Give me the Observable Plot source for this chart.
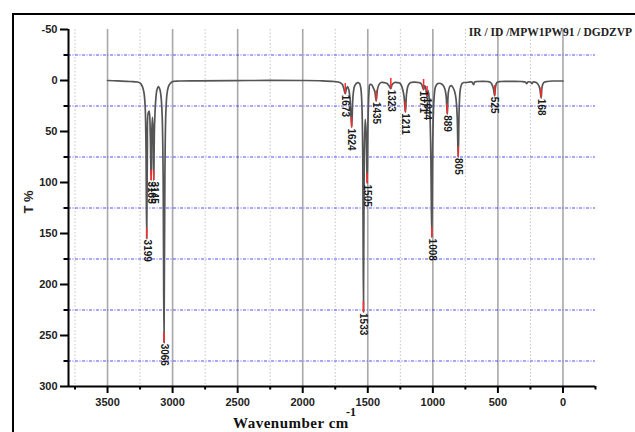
<!DOCTYPE html>
<html><head><meta charset="utf-8">
<script src="https://cdn.jsdelivr.net/npm/d3@7"></script>
<script src="https://cdn.jsdelivr.net/npm/@observablehq/plot@0.6"></script>
<style>
html,body{margin:0;padding:0;overflow:hidden;background:#fff;width:635px;height:432px}
#wrap{position:relative;width:635px;height:432px;overflow:hidden;background:#fff}
#wrap svg{position:absolute;left:0;top:0}
#frame{position:absolute;left:12px;top:13px;width:700px;height:500px;border:2px solid #000;box-sizing:border-box}
</style></head>
<body><div id="wrap"><div id="frame"></div></div>
<script>
// axis ticks
const xMajor = [3500, 3000, 2500, 2000, 1500, 1000, 500, 0];
const xMinor = [3750, 3250, 2750, 2250, 1750, 1250, 750, 250, -250];
const yMajor = [-50, 0, 50, 100, 150, 200, 250, 300];
const yMinor = [-25, 25, 75, 125, 175, 225, 275];

// labelled peaks
const peakWn = [3199, 3165, 3145, 3066, 1673, 1624, 1533, 1505, 1435, 1323, 1211, 1071, 1044, 1008, 889, 805, 525, 168];
const peakT  = [155, 98, 98, 257, 13, 46, 227, 101, 20, 8, 31, 9, 16, 154, 33, 75, 15, 17];

// spectrum (wavenumber, T %)
const specWn = [3500,3420,3330,3270,3245,3232,3220,3211,3205,3199,3194,3188,3180,3172,3165,3160,3155,3150,3145,3139,3130,3120,3108,3097,3088,3080,3073,3066,3059,3052,3043,3032,3018,3000,2950,2800,2400,2000,1850,1760,1715,1695,1684,1673,1664,1655,1646,1636,1624,1614,1603,1590,1575,1563,1553,1545,1539,1533,1527,1520,1513,1505,1498,1491,1484,1472,1458,1446,1435,1426,1414,1398,1375,1352,1338,1323,1313,1295,1272,1250,1236,1222,1211,1202,1190,1170,1140,1110,1090,1080,1071,1062,1054,1044,1035,1026,1017,1008,1000,991,979,962,940,920,906,898,889,881,870,858,845,832,822,813,805,797,788,776,762,745,720,700,692,686,680,660,620,580,555,542,533,525,518,508,480,430,380,320,290,278,270,250,238,230,205,190,178,168,160,148,120,80,40,0];
const specT  = [0,0.3,1,1.5,3,6,12,25,60,155,70,32,30,50,98,50,36,50,98,45,20,9,6,9,17,35,90,257,90,32,13,6,3,1,0.5,0.3,0,0,0.3,1,2,4,8,13,8,6,9,18,46,16,6,3,2,3,8,25,70,227,75,38,50,101,38,12,4,4,7,11,20,9,4,2,2,3,5,8,4,2,2,3,7,15,31,13,5,2,1.5,2,3,6,9,5,8,16,10,22,60,154,55,18,6,3,3,5,9,15,33,12,6,5,7,11,18,35,75,25,8,3,2,2,1.5,1.5,3,4,1.5,1,0.8,1,2,5,9,15,6,2,1,0.8,0.8,1,1.5,3,1.5,1.5,3,1.5,2,4,8,17,6,2,1,0.5,0.5,0.5];

const spectrum = specWn.map((w, i) => ({wn: w, t: specT[i]}));
const peaks = peakWn.map((w, i) => ({wn: w, t: peakT[i], label: String(w)}));

const chart = Plot.plot({
  width: 635, height: 432,
  marginLeft: 68, marginRight: 40, marginTop: 29, marginBottom: 46,
  style: "background:transparent;font-family:'Liberation Sans',Arial,sans-serif;font-size:11px;font-weight:bold;color:#111;overflow:visible",
  x: {domain: [3800, -250]},
  y: {domain: [-50, 300], reverse: true},
  marks: [
    Plot.ruleX(xMinor.filter(d => d > -250), {stroke: "#c4c4c4", strokeWidth: 1, strokeDasharray: "1.5,2"}),
    Plot.ruleX(xMajor, {stroke: "#a8a8a8", strokeWidth: 1.6}),
    Plot.ruleY(yMinor, {stroke: "#3c3cff", strokeWidth: 1, strokeDasharray: "3,1.5,1,1.5", strokeOpacity: 0.9}),
    Plot.line(spectrum, {x: "wn", y: "t", stroke: "#555", strokeWidth: 1.7, curve: "catmull-rom"}),
    Plot.ruleX(peaks, {x: "wn", y1: d => d.t - 10, y2: "t", stroke: "#ff2a2a", strokeWidth: 1.5}),
    Plot.text(peaks, {x: "wn", y: d => d.t + 1, text: "label", rotate: 90, textAnchor: "start", lineAnchor: "middle", fontSize: 10, fontWeight: "bold", fill: "#1a1a1a"}),
    Plot.ruleX([3800], {stroke: "#000", strokeWidth: 2}),
    Plot.ruleY([300], {stroke: "#000", strokeWidth: 2}),
    Plot.axisY(yMajor, {tickSize: 8, tickPadding: 3, strokeWidth: 2, stroke: "#000", tickFormat: d => String(d), label: null, fill: "#222"}),
    Plot.axisY(yMinor, {tickSize: 4.5, strokeWidth: 2, stroke: "#000", tickFormat: () => "", label: null}),
    Plot.axisX(xMajor, {tickSize: 7, tickPadding: 5, strokeWidth: 2, stroke: "#000", tickFormat: d => String(d), label: null, fill: "#222"}),
    Plot.axisX(xMinor, {tickSize: 3.5, strokeWidth: 2, stroke: "#000", tickFormat: () => "", label: null})
  ]
});
const wrap = document.getElementById("wrap");
wrap.appendChild(chart);

const ns = "http://www.w3.org/2000/svg";
const ov = document.createElementNS(ns, "svg");
ov.setAttribute("width", 635); ov.setAttribute("height", 432);
ov.innerHTML = `
<text x="632" y="36" text-anchor="end" font-family="'Liberation Serif','Times New Roman',serif" font-weight="bold" font-size="11.5" fill="#222">IR / ID /MPW1PW91 / DGDZVP</text>
<text transform="translate(33,202) rotate(-90)" text-anchor="middle" font-family="'Liberation Sans',Arial,sans-serif" font-weight="bold" font-size="13" fill="#222">T %</text>
<text x="233" y="428" font-family="'Liberation Serif','Times New Roman',serif" font-weight="bold" font-size="15" letter-spacing="0.5" fill="#111">Wavenumber cm</text>
<text x="346" y="416" font-family="'Liberation Serif','Times New Roman',serif" font-weight="bold" font-size="12" fill="#111">-1</text>`;
wrap.appendChild(ov);
</script></body></html>
